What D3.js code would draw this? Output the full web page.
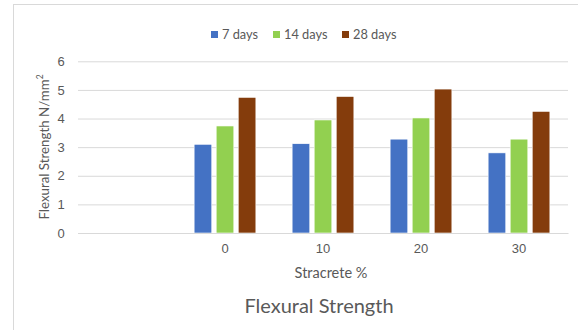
<!DOCTYPE html>
<html><head><meta charset="utf-8">
<script src="https://cdn.jsdelivr.net/npm/d3@7"></script>
<style>body{margin:0;background:#fff}svg{display:block;font-family:Lato,"Open Sans",sans-serif}</style>
</head><body><svg id="c" width="578" height="330"></svg>
<script>
const categories = ["", "0", "10", "20", "30"];
const seriesNames = ["7 days", "14 days", "28 days"];
const days7  = [null, 3.10, 3.12, 3.28, 2.80];
const days14 = [null, 3.74, 3.95, 4.02, 3.28];
const days28 = [null, 4.74, 4.77, 5.03, 4.25];
const yTicks = [0, 1, 2, 3, 4, 5, 6];
const colors = ["#4472C4", "#92D050", "#843C0C"];
const seriesValues = [days7, days14, days28];

(function () {
const svg = d3.select("#c");
svg.append("rect").attr("x", 13.5).attr("y", 4.5).attr("width", 600).attr("height", 400)
  .attr("fill", "#fff").attr("stroke", "#d9d9d9");

const pLeft = 78, pRight = 568, pTop = 61.3, pBottom = 233;
const x = d3.scaleBand().domain(categories).range([pLeft, pRight]).paddingInner(0).paddingOuter(0);
const y = d3.scaleLinear().domain([0, 6]).range([pBottom, pTop]);
const xs = d3.scaleBand().domain(seriesNames).range([0, x.bandwidth() * 0.63]).paddingInner(0.2);
const groupOffset = (x.bandwidth() - x.bandwidth() * 0.63) / 2;

// gridlines
const yAxis = d3.axisLeft(y).tickValues(yTicks).tickFormat(d3.format("d")).tickSize(-(pRight - pLeft)).tickPadding(12);
const gy = svg.append("g").attr("transform", `translate(${pLeft},0)`).call(yAxis);
gy.select(".domain").remove();
gy.selectAll(".tick line").attr("stroke", "#d9d9d9").attr("stroke-width", 1);
gy.selectAll(".tick text").attr("fill", "#595959").attr("font-size", 13).attr("text-anchor", "middle").attr("x", -17);

// bars
seriesNames.forEach((s, si) => {
  svg.append("g").selectAll("rect")
    .data(categories.map((c, i) => ({c, v: seriesValues[si][i]})).filter(d => d.v != null))
    .join("rect")
    .attr("x", d => x(d.c) + groupOffset + xs(s))
    .attr("width", xs.bandwidth())
    .attr("y", d => y(d.v))
    .attr("height", d => y(0) - y(d.v))
    .attr("fill", colors[si])
    .attr("stroke", "#fff").attr("stroke-width", 0.6);
});

// x axis
const xAxis = d3.axisBottom(x).tickSize(0).tickPadding(11);
const gx = svg.append("g").attr("transform", `translate(0,${pBottom})`).call(xAxis);
gx.select(".domain").attr("stroke", "#d9d9d9");
gx.selectAll(".tick text").attr("fill", "#595959").attr("font-size", 13);

// axis titles
svg.append("text").attr("x", 331).attr("y", 278).attr("text-anchor", "middle")
  .attr("fill", "#595959").attr("font-size", 14.5).text("Stracrete %");
const yt = svg.append("text").attr("transform", "translate(49,147) rotate(-90)")
  .attr("text-anchor", "middle").attr("fill", "#595959").attr("font-size", 13.3);
yt.append("tspan").text("Flexural Strength N/mm");
yt.append("tspan").attr("font-size", 8.5).attr("dy", -6).text("2");

// title
svg.append("text").attr("x", 319).attr("y", 312.5).attr("text-anchor", "middle")
  .attr("fill", "#595959").attr("font-size", 20).text("Flexural Strength");

// legend
const legendX = [211, 273, 342];
const lg = svg.append("g");
seriesNames.forEach((s, i) => {
  lg.append("rect").attr("x", legendX[i]).attr("y", 31).attr("width", 7).attr("height", 7).attr("fill", colors[i]);
  lg.append("text").attr("x", legendX[i] + 11).attr("y", 38.5).attr("fill", "#595959")
    .attr("font-size", 12.8).text(s);
});
})();
</script></body></html>
